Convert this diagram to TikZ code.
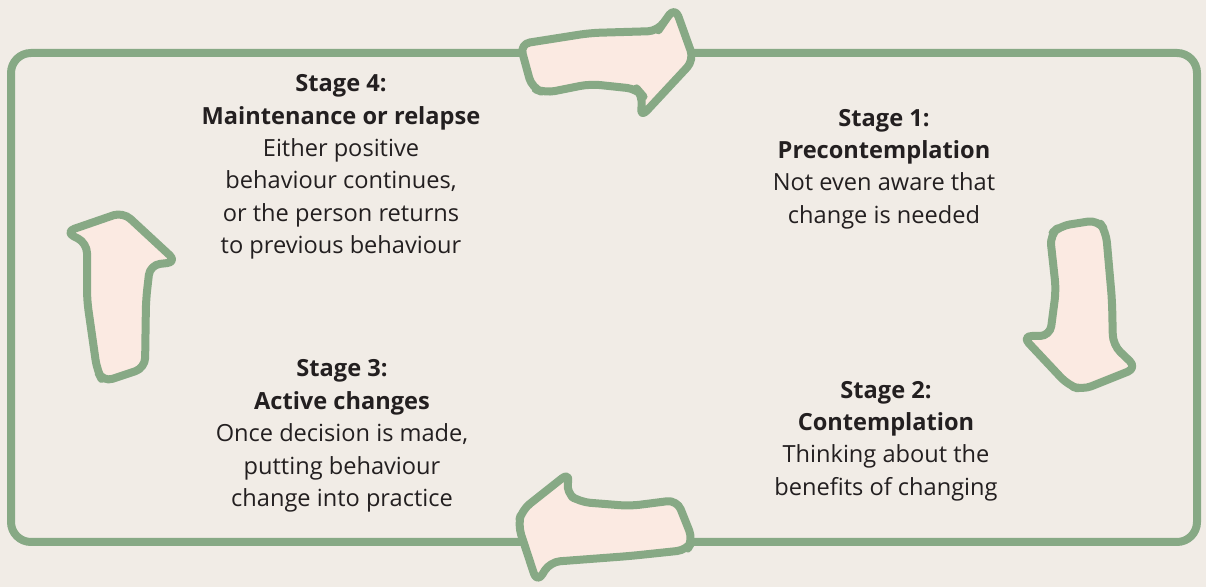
\documentclass[tikz,border=0pt]{standalone}
\usepackage{fontspec}
\setmainfont{Open Sans}
\usetikzlibrary{positioning}
\definecolor{sage}{HTML}{87A985}
\definecolor{blush}{HTML}{FBEAE2}
\definecolor{paper}{HTML}{F1ECE6}
\definecolor{ink}{HTML}{231F20}
\tikzset{
  frame/.style={draw=sage, line width=4pt, rounded corners=10pt},
  turn/.style={draw=sage, fill=blush, line width=4pt, rounded corners=5pt, line join=round},
  stage/.style={align=center, text=ink, inner sep=0pt,
    font=\fontsize{11.8}{16.2}\selectfont}
}

\begin{document}
\begin{tikzpicture}[x=0.5pt, y=-0.5pt]
  \fill[paper] (0,0) rectangle (1206,587);
  \useasboundingbox (0,0) rectangle (1206,587);
  \draw[frame] (11,53) rectangle (1197,542);

  % the four turning arrows, clockwise from the top
  \draw[turn] (520,44) -- (590,33) -- (658,31) -- (664,22) -- (675,7) -- (694,60)
    -- (640,118) -- (643,96) -- (637,89) -- (590,84) -- (545,93) -- (532,88) -- cycle;
  \draw[turn] (1050,235) -- (1060,226) -- (1098,220) -- (1106,232) -- (1112,300)
    -- (1113,345) -- (1137,368) -- (1082,390) -- (1068,385) -- (1022,336)
    -- (1050,336) -- (1056,290) -- cycle;
  \draw[turn] (570,472) -- (566,493) -- (580,502) -- (630,506) -- (677,500)
    -- (693,540) -- (687,550) -- (630,556) -- (550,562) -- (537,583)
    -- (518,525) -- (522,510) -- cycle;
  \draw[turn] (123,212) -- (177,262) -- (150,265) -- (146,300) -- (145,368)
    -- (103,382) -- (97,370) -- (87,300) -- (87,243) -- (65,232) -- cycle;

  \node[stage] (pre) at (884,169) {\textbf{Stage 1:}\\\textbf{Precontemplation}\\
    Not even aware that\\change is needed};
  \node[stage] (con) at (886,441) {\textbf{Stage 2:}\\\textbf{Contemplation}\\
    Thinking about the\\benefits of changing};
  \node[stage] (act) at (342,436) {\textbf{Stage 3:}\\\textbf{Active changes}\\
    Once decision is made,\\putting behaviour\\change into practice};
  \node[stage] (main) at (341,167) {\textbf{Stage 4:}\\\textbf{Maintenance or relapse}\\
    Either positive\\behaviour continues,\\or the person returns\\to previous behaviour};
\end{tikzpicture}
\end{document}
